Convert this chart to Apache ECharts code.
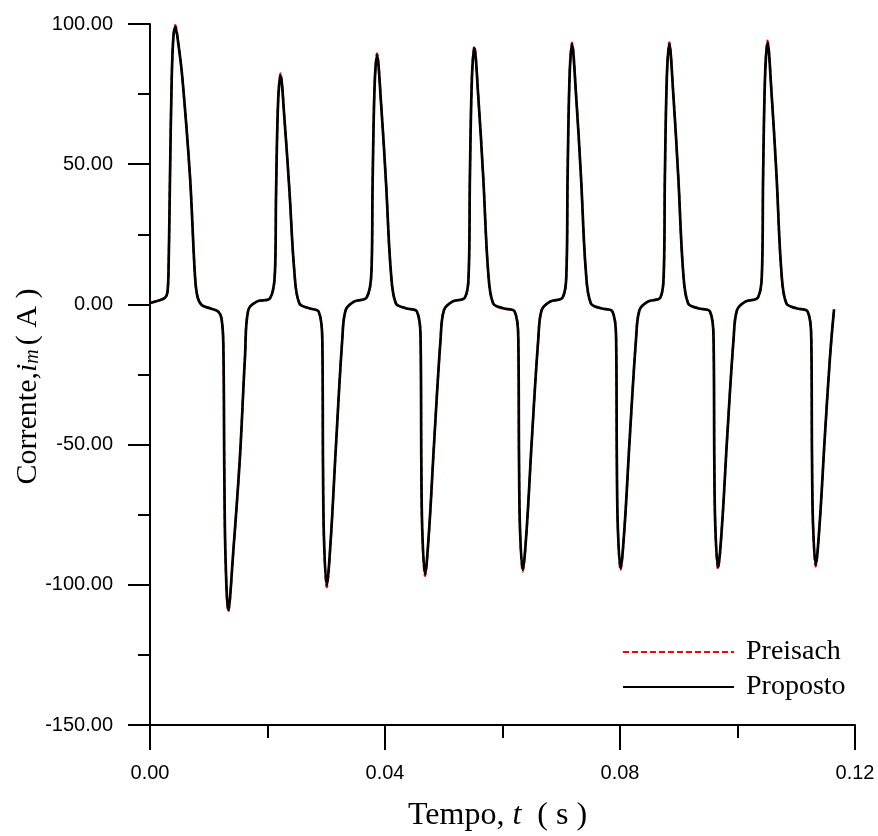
<!DOCTYPE html>
<html>
<head>
<meta charset="utf-8">
<script src="https://cdn.jsdelivr.net/npm/echarts@6/dist/echarts.min.js"></script>
<style>
html,body{margin:0;padding:0;background:#fff;}
#chart{width:878px;height:836px;}
</style>
</head>
<body>
<div id="chart"></div>
<script>
// Time (s)
var tempo = [
  0.00000, 0.00136, 0.00255, 0.00298, 0.00318, 0.00340, 0.00369, 0.00397, 0.00431, 0.00482,
  0.00550, 0.00681, 0.00766, 0.00809, 0.00880, 0.01021, 0.01163, 0.01217, 0.01248, 0.01265,
  0.01285, 0.01333, 0.01418, 0.01532, 0.01617, 0.01673, 0.01816, 0.02043,
  0.02128, 0.02146, 0.02180, 0.02221, 0.02289, 0.02375, 0.02456, 0.02541, 0.02712, 0.02872,
  0.02933, 0.02945, 0.02962, 0.03008, 0.03076, 0.03161, 0.03272, 0.03331, 0.03472, 0.03689,
  0.03770, 0.03789, 0.03823, 0.03864, 0.03932, 0.04017, 0.04099, 0.04184, 0.04354, 0.04545,
  0.04606, 0.04618, 0.04635, 0.04681, 0.04749, 0.04834, 0.04945, 0.05004, 0.05146, 0.05362,
  0.05426, 0.05445, 0.05479, 0.05520, 0.05588, 0.05673, 0.05755, 0.05840, 0.06010, 0.06208,
  0.06269, 0.06281, 0.06298, 0.06344, 0.06412, 0.06497, 0.06608, 0.06667, 0.06809, 0.07025,
  0.07089, 0.07108, 0.07142, 0.07183, 0.07251, 0.07336, 0.07418, 0.07503, 0.07673, 0.07872,
  0.07934, 0.07946, 0.07963, 0.08009, 0.08077, 0.08162, 0.08272, 0.08332, 0.08473, 0.08689,
  0.08746, 0.08764, 0.08798, 0.08839, 0.08907, 0.08992, 0.09074, 0.09159, 0.09329, 0.09532,
  0.09593, 0.09605, 0.09622, 0.09668, 0.09736, 0.09821, 0.09932, 0.09992, 0.10133, 0.10349,
  0.10417, 0.10436, 0.10470, 0.10511, 0.10579, 0.10664, 0.10746, 0.10831, 0.11001, 0.11195,
  0.11256, 0.11268, 0.11285, 0.11331, 0.11399, 0.11484, 0.11575, 0.11643
];

// Corrente (A) - Proposto
var correnteProposto = [
  0.5, 1.3, 2.4, 4.5, 15, 45, 80, 95, 99, 93,
  81, 45.5, 10, 2.7, -0.2, -1.4, -2.6, -5, -14, -60,
  -90, -109, -88, -54, -18.6, -2, 1, 2.2,
  12, 40, 72, 81.8, 66, 40, 12, 0.4, -1.4, -2.6,
  -12.7, -58, -84, -100.3, -84, -52, -12.7, -2, 1, 2.5,
  12, 43, 78, 88.9, 72, 43.5, 12, 0.4, -1.4, -2.6,
  -12.7, -56, -81, -96.3, -81, -50, -12.7, -2, 1, 2.5,
  12, 45, 80.5, 91.5, 74, 45, 12, 0.4, -1.4, -2.6,
  -12.7, -55, -80, -94.7, -80, -49, -12.7, -2, 1, 2.5,
  12, 45.5, 81.5, 92.8, 75, 45.5, 12, 0.4, -1.4, -2.6,
  -12.7, -55, -79.5, -94.2, -79.5, -49, -12.7, -2, 1, 2.5,
  12, 45.5, 81.5, 92.9, 75, 45.5, 12, 0.4, -1.4, -2.6,
  -12.7, -55, -79, -93.8, -79, -48.5, -12.7, -2, 1, 2.5,
  12, 46, 82, 93.5, 75.5, 46, 12, 0.4, -1.4, -2.6,
  -12.7, -54, -78, -92.9, -78, -48, -18.6, -1.8
];

// Corrente (A) - Preisach
var correntePreisach = [
  0.5, 1.3, 2.4, 4.5, 15, 45, 80, 95.4, 99.6, 93.2,
  81, 45.5, 10, 2.7, -0.2, -1.4, -2.6, -5, -14, -60,
  -90.3, -109.6, -88.2, -54, -18.6, -2, 1, 2.2,
  12, 40, 72.3, 82.4, 66.2, 40, 12, 0.4, -1.4, -2.6,
  -12.7, -58, -84.3, -100.9, -84.2, -52, -12.7, -2, 1, 2.5,
  12, 43, 78.3, 89.5, 72.2, 43.5, 12, 0.4, -1.4, -2.6,
  -12.7, -56, -81.3, -96.9, -81.2, -50, -12.7, -2, 1, 2.5,
  12, 45, 80.8, 92.1, 74.2, 45, 12, 0.4, -1.4, -2.6,
  -12.7, -55, -80.3, -95.3, -80.2, -49, -12.7, -2, 1, 2.5,
  12, 45.5, 81.8, 93.4, 75.2, 45.5, 12, 0.4, -1.4, -2.6,
  -12.7, -55, -79.8, -94.8, -79.7, -49, -12.7, -2, 1, 2.5,
  12, 45.5, 81.8, 93.5, 75.2, 45.5, 12, 0.4, -1.4, -2.6,
  -12.7, -55, -79.3, -94.4, -79.2, -48.5, -12.7, -2, 1, 2.5,
  12, 46, 82.3, 94.1, 75.7, 46, 12, 0.4, -1.4, -2.6,
  -12.7, -54, -78.3, -93.5, -78.2, -48, -18.6, -1.8
];

var xTickValues = [0, 0.04, 0.08, 0.12];
var yTickValues = [-150, -100, -50, 0, 50, 100];
var seriesNames = ['Preisach', 'Proposto'];

function zip(xs, ys) {
  var out = [];
  for (var i = 0; i < xs.length; i++) out.push([xs[i], ys[i]]);
  return out;
}

var chart = echarts.init(document.getElementById('chart'), null, {renderer: 'canvas'});
var serif = "'Liberation Serif', 'Times New Roman', serif";
var sans = "'Liberation Sans', Arial, sans-serif";

var option = {
  backgroundColor: '#ffffff',
  animation: false,
  grid: {left: 150, right: 23, top: 24, bottom: 111, containLabel: false, outerBoundsMode: 'none'},
  legend: {
    orient: 'vertical',
    left: 622,
    top: 638,
    padding: 0,
    itemWidth: 111,
    itemHeight: 14,
    itemGap: 7,
    data: seriesNames,
    itemStyle: {opacity: 0, borderWidth: 0},
    textStyle: {fontFamily: serif, fontSize: 28, color: '#000', lineHeight: 27, padding: [0, 0, 0, 7]}
  },
  xAxis: {
    type: 'value',
    min: xTickValues[0],
    max: xTickValues[xTickValues.length - 1],
    interval: 0.04,
    name: '{n|Tempo, }{i|t}{n|  ( s )}',
    nameLocation: 'middle',
    nameGap: 75,
    nameMoveOverlap: false,
    nameTextStyle: {
      padding: [0, 10, 0, 0],
      rich: {
        n: {fontFamily: serif, fontSize: 32, color: '#000'},
        i: {fontFamily: serif, fontSize: 32, fontStyle: 'italic', color: '#000'}
      }
    },
    axisLine: {show: true, onZero: false, lineStyle: {color: '#000', width: 2}},
    axisTick: {show: true, length: 25, lineStyle: {color: '#000', width: 2}},
    minorTick: {show: true, splitNumber: 2, length: 13, lineStyle: {color: '#000', width: 2}},
    splitLine: {show: false},
    minorSplitLine: {show: false},
    axisLabel: {
      margin: 38,
      fontFamily: sans,
      fontSize: 20,
      color: '#000',
      formatter: function (v) { return v.toFixed(2); }
    }
  },
  yAxis: {
    type: 'value',
    min: yTickValues[0],
    max: yTickValues[yTickValues.length - 1],
    interval: 50,
    name: '{n|Corrente,}{i|i}{s|m}{n|( A )}',
    nameLocation: 'middle',
    nameRotate: 90,
    nameGap: 107,
    nameMoveOverlap: false,
    nameTextStyle: {
      padding: [0, 24, 0, 0],
      rich: {
        n: {fontFamily: serif, fontSize: 30, color: '#000'},
        i: {fontFamily: serif, fontSize: 30, fontStyle: 'italic', color: '#000'},
        s: {fontFamily: serif, fontSize: 20, fontStyle: 'italic', color: '#000', verticalAlign: 'bottom', padding: [0, 4, 0, 0]}
      }
    },
    axisLine: {show: true, onZero: false, lineStyle: {color: '#000', width: 2}},
    axisTick: {show: true, length: 22, lineStyle: {color: '#000', width: 2}},
    minorTick: {show: true, splitNumber: 2, length: 12, lineStyle: {color: '#000', width: 2}},
    splitLine: {show: false},
    minorSplitLine: {show: false},
    axisLabel: {
      margin: 37,
      fontFamily: sans,
      fontSize: 20,
      color: '#000',
      formatter: function (v) { return v.toFixed(2); }
    }
  },
  series: [
    {
      name: seriesNames[0],
      type: 'line',
      data: zip(tempo, correntePreisach),
      showSymbol: false,
      symbol: 'none',
      smooth: 0.35,
      lineStyle: {color: '#ff0000', width: 2.2, type: [6, 3]},
      itemStyle: {color: '#ff0000'},
      z: 2
    },
    {
      name: seriesNames[1],
      type: 'line',
      data: zip(tempo, correnteProposto),
      showSymbol: false,
      symbol: 'none',
      smooth: 0.35,
      lineStyle: {color: '#000000', width: 2.7},
      itemStyle: {color: '#000000'},
      z: 3
    }
  ]
};
chart.setOption(option);
</script>
</body>
</html>
